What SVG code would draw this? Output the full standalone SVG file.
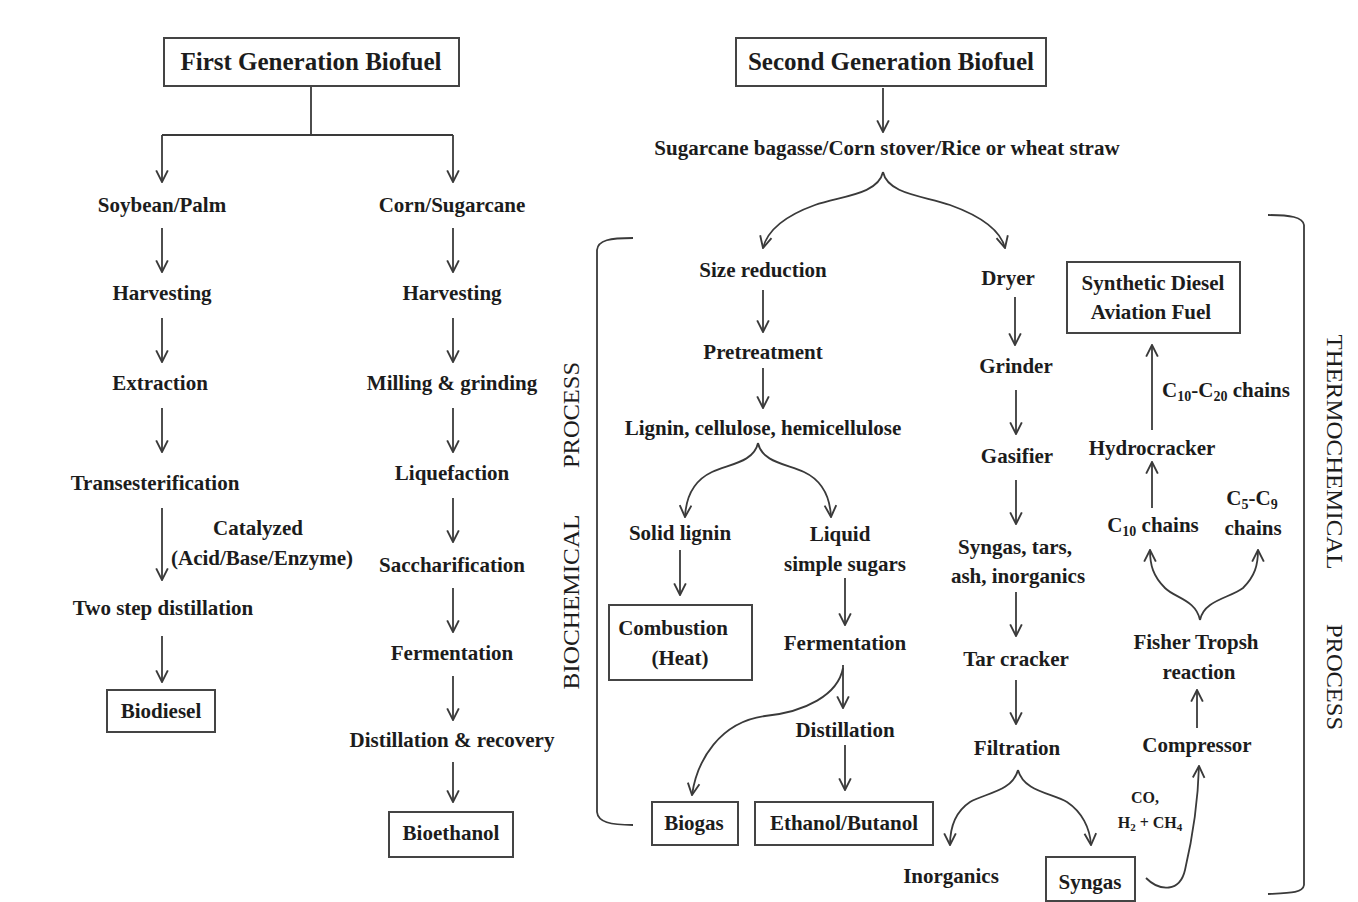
<svg xmlns="http://www.w3.org/2000/svg" width="1358" height="902" viewBox="0 0 1358 902">
<style>
text{font-family:"Liberation Serif","Times New Roman",serif;font-weight:bold;font-size:21px;fill:#1c1c1c;text-anchor:middle}
.title{font-size:25px}
.small{font-size:16px}
.rot{font-weight:normal;font-size:23px}
.box{fill:none;stroke:#444;stroke-width:2}
.ln{fill:none;stroke:#3a3a3a;stroke-width:1.8}
.ar{fill:none;stroke:#3a3a3a;stroke-width:1.8;marker-end:url(#ah)}
</style>
<defs>
<marker id="ah" viewBox="0 0 12 12" refX="11" refY="6" markerWidth="14" markerHeight="14" markerUnits="userSpaceOnUse" orient="auto">
<path d="M1,1 L11,6 L1,11" fill="none" stroke="#3a3a3a" stroke-width="1.6"/>
</marker>
</defs>
<rect width="1358" height="902" fill="#fff"/>

<g id="connectors">
<path class="ln" d="M311,86 L311,135 M162,135 L453,135"/>
<path class="ar" d="M162,135 L162,182"/>
<path class="ar" d="M453,135 L453,182"/>
<path class="ar" d="M162,228 L162,272"/>
<path class="ar" d="M162,318 L162,362"/>
<path class="ar" d="M162,408 L162,452"/>
<path class="ar" d="M162,508 L162,580"/>
<path class="ar" d="M162,636 L162,682"/>
<path class="ar" d="M453,228 L453,272"/>
<path class="ar" d="M453,318 L453,362"/>
<path class="ar" d="M453,408 L453,452"/>
<path class="ar" d="M453,498 L453,542"/>
<path class="ar" d="M453,588 L453,632"/>
<path class="ar" d="M453,676 L453,720"/>
<path class="ar" d="M453,762 L453,802"/>
<path class="ar" d="M883,88 L883,132"/>
<path class="ar" d="M883,172 C878,195 840,196 815,205 C790,214 768,228 763,248"/>
<path class="ar" d="M883,172 C888,195 926,196 950,205 C975,214 1000,228 1005,248"/>
<path class="ar" d="M763,290 L763,332"/>
<path class="ar" d="M763,368 L763,408"/>
<path class="ar" d="M758,443 C754,462 730,464 712,472 C695,480 686,496 685,517"/>
<path class="ar" d="M758,443 C762,462 786,464 804,472 C821,480 830,496 831,517"/>
<path class="ar" d="M680,550 L680,595"/>
<path class="ar" d="M845,578 L845,625"/>
<path class="ar" d="M843,665 L843,708"/>
<path class="ar" d="M843,668 C838,695 805,712 765,716 C720,722 697,760 692,795"/>
<path class="ar" d="M845,745 L845,790"/>
<path class="ar" d="M1015,297 L1015,345"/>
<path class="ar" d="M1016,390 L1016,434"/>
<path class="ar" d="M1016,480 L1016,524"/>
<path class="ar" d="M1016,592 L1016,636"/>
<path class="ar" d="M1016,680 L1016,724"/>
<path class="ar" d="M1018,770 C1012,792 985,793 970,802 C955,812 950,828 950,845"/>
<path class="ar" d="M1018,770 C1024,792 1052,793 1067,802 C1082,812 1090,828 1091,845"/>
<path class="ar" d="M1146,878 C1160,892 1180,892 1185,870 C1192,840 1198,800 1199,766"/>
<path class="ar" d="M1197,728 L1197,690"/>
<path class="ar" d="M1200,620 C1196,600 1175,598 1165,588 C1153,576 1150,565 1150,550"/>
<path class="ar" d="M1200,620 C1204,600 1230,598 1243,588 C1255,576 1258,565 1258,550"/>
<path class="ar" d="M1152,508 L1152,462"/>
<path class="ar" d="M1152,430 L1152,345"/>
<path class="ln" d="M633,238 C610,238 598,240 597,250 L597,812 C598,822 610,825 633,825"/>
<path class="ln" d="M1268,215 C1290,215 1303,217 1304,225 L1304,885 C1303,893 1290,893 1268,894"/>
</g>

<g id="first-gen"><rect class="box" x="164" y="38" width="295" height="48"/><text class="title" x="311" y="70">First Generation Biofuel</text></g>
<g id="soybean"><text x="162" y="212">Soybean/Palm</text></g>
<g id="harvesting1"><text x="162" y="300">Harvesting</text></g>
<g id="extraction"><text x="160" y="390">Extraction</text></g>
<g id="transesterification"><text x="155" y="490">Transesterification</text></g>
<g id="catalyzed"><text x="258" y="535">Catalyzed</text><text x="262" y="565">(Acid/Base/Enzyme)</text></g>
<g id="two-step"><text x="163" y="615">Two step distillation</text></g>
<g id="biodiesel"><rect class="box" x="107" y="690" width="108" height="42"/><text x="161" y="718">Biodiesel</text></g>

<g id="corn"><text x="452" y="212">Corn/Sugarcane</text></g>
<g id="harvesting2"><text x="452" y="300">Harvesting</text></g>
<g id="milling"><text x="452" y="390">Milling &amp; grinding</text></g>
<g id="liquefaction"><text x="452" y="480">Liquefaction</text></g>
<g id="saccharification"><text x="452" y="572">Saccharification</text></g>
<g id="fermentation1"><text x="452" y="660">Fermentation</text></g>
<g id="distillation-recovery"><text x="452" y="747">Distillation &amp; recovery</text></g>
<g id="bioethanol"><rect class="box" x="389" y="812" width="124" height="45"/><text x="451" y="840">Bioethanol</text></g>

<g id="second-gen"><rect class="box" x="736" y="38" width="310" height="48"/><text class="title" x="891" y="70">Second Generation Biofuel</text></g>
<g id="feedstock"><text x="887" y="155">Sugarcane bagasse/Corn stover/Rice or wheat straw</text></g>

<g id="biochem-label"><text class="rot" transform="translate(579,602) rotate(-90)" textLength="175" lengthAdjust="spacingAndGlyphs">BIOCHEMICAL</text><text class="rot" transform="translate(579,415) rotate(-90)" textLength="106" lengthAdjust="spacingAndGlyphs">PROCESS</text></g>
<g id="size-reduction"><text x="763" y="277">Size reduction</text></g>
<g id="pretreatment"><text x="763" y="359">Pretreatment</text></g>
<g id="lignin"><text x="763" y="435">Lignin, cellulose, hemicellulose</text></g>
<g id="solid-lignin"><text x="680" y="540">Solid lignin</text></g>
<g id="combustion"><rect class="box" x="609" y="605" width="143" height="75"/><text x="673" y="635">Combustion</text><text x="680" y="665">(Heat)</text></g>
<g id="liquid"><text x="840" y="541">Liquid</text><text x="845" y="571">simple sugars</text></g>
<g id="fermentation2"><text x="845" y="650">Fermentation</text></g>
<g id="distillation"><text x="845" y="737">Distillation</text></g>
<g id="biogas"><rect class="box" x="652" y="802" width="86" height="43"/><text x="694" y="830">Biogas</text></g>
<g id="ethanol"><rect class="box" x="755" y="802" width="178" height="43"/><text x="844" y="830">Ethanol/Butanol</text></g>

<g id="thermo-label"><text class="rot" transform="translate(1327,452) rotate(90)" textLength="235" lengthAdjust="spacingAndGlyphs">THERMOCHEMICAL</text><text class="rot" transform="translate(1327,677) rotate(90)" textLength="106" lengthAdjust="spacingAndGlyphs">PROCESS</text></g>
<g id="dryer"><text x="1008" y="285">Dryer</text></g>
<g id="grinder"><text x="1016" y="373">Grinder</text></g>
<g id="gasifier"><text x="1017" y="463">Gasifier</text></g>
<g id="syngas-tars"><text x="1015" y="554">Syngas, tars,</text><text x="1018" y="583">ash, inorganics</text></g>
<g id="tar-cracker"><text x="1016" y="666">Tar cracker</text></g>
<g id="filtration"><text x="1017" y="755">Filtration</text></g>
<g id="inorganics"><text x="951" y="883">Inorganics</text></g>
<g id="syngas"><rect class="box" x="1046" y="857" width="89" height="44"/><text x="1090" y="889">Syngas</text></g>
<g id="gas-label"><text class="small" x="1145" y="803">CO,</text><text class="small" x="1150" y="828">H<tspan font-size="11" dy="3">2</tspan><tspan dy="-3"> + CH</tspan><tspan font-size="11" dy="3">4</tspan></text></g>
<g id="compressor"><text x="1197" y="752">Compressor</text></g>
<g id="fisher"><text x="1196" y="649">Fisher Tropsh</text><text x="1199" y="679">reaction</text></g>
<g id="c10"><text x="1153" y="532">C<tspan font-size="14" dy="4">10</tspan><tspan dy="-4"> chains</tspan></text></g>
<g id="c5c9"><text x="1252" y="505">C<tspan font-size="14" dy="4">5</tspan><tspan dy="-4">-C</tspan><tspan font-size="14" dy="4">9</tspan></text><text x="1253" y="535">chains</text></g>
<g id="hydrocracker"><text x="1152" y="455">Hydrocracker</text></g>
<g id="c10c20"><text x="1226" y="397">C<tspan font-size="14" dy="4">10</tspan><tspan dy="-4">-C</tspan><tspan font-size="14" dy="4">20</tspan><tspan dy="-4"> chains</tspan></text></g>
<g id="synthetic"><rect class="box" x="1067" y="262" width="173" height="71"/><text x="1153" y="290">Synthetic Diesel</text><text x="1151" y="319">Aviation Fuel</text></g>
</svg>
